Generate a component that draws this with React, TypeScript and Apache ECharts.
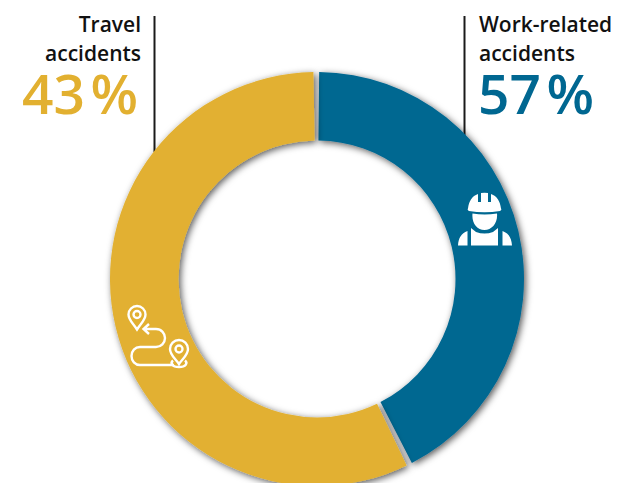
import React, { useEffect, useRef } from "react";
import * as echarts from "echarts";

// Arc sizes as drawn in the picture (the blue arc spans about 155 degrees)
const categories = ["Work-related accidents", "Travel accidents"];
const arcValues = [42.7, 57.3];
const colors = ["#006791", "#e2b030"];
const leftLabel = ["Travel", "accidents"];
const rightLabel = ["Work-related", "accidents"];
const leftPercent = "43\u200A%";
const rightPercent = "57\u200A%";

const workerPath =
  "M468 208.5 C469 201 472 196 478 194 L478 202 L481 202 L481 193 Q484.500 192.300 488 193 L488 202 L491 202 L491 194 C497 196 500 201 501 208.500 Q502 210 500 211 Q484.500 213.500 469 211 Q467 210 468 208.500 Z " +
  "M472.500 213.500 Q484.500 215.500 497 213.500 C498 223 492 230 484.500 230 C477 230 471.500 223 472.500 213.500 Z " +
  "M471 228 L476 232 Q484.500 235 493 232 L498 228 L498 245.500 L471 245.500 Z " +
  "M467.500 231 L467.500 245.500 L458 245.500 C458.500 238 461 233.500 467.500 231 Z " +
  "M502.500 231 C509 233.500 511.500 238 512 245.500 L502.500 245.500 Z";

const routePath =
  "M137 329.500 C133 323 128.500 320 128.500 314.500 A8.500 8.500 0 0 1 145.500 314.500 C145.500 320 141 323 137 329.500 Z " +
  "M140.500 314.500 A3.500 3.500 0 1 1 133.500 314.500 A3.500 3.500 0 1 1 140.500 314.500 Z " +
  "M179 364 C175 358 170 355 170 349 A9 9 0 0 1 188 349 C188 355 183 358 179 364 Z " +
  "M182.500 349 A3.500 3.500 0 1 1 175.500 349 A3.500 3.500 0 1 1 182.500 349 Z " +
  "M173 360.500 C170 363 172 367 179 367 C186 367 188 363 185 360.500 " +
  "M144 329 L156 329 C161.500 329 165 333.500 165 338 C165 343 161 347 156 347 L140 347 C135 347 131.500 351 131.500 356 C131.500 361 135 365 140 365 L174 365 " +
  "M149 324 L143.500 329 L149 334";

echarts.graphic.registerShape("worker", echarts.graphic.extendPath(workerPath, {}) as any);
echarts.graphic.registerShape("route", echarts.graphic.extendPath(routePath, {}) as any);

const FONT = '"Open Sans", sans-serif';

export default function App() {
  const ref = useRef<HTMLDivElement>(null);
  useEffect(() => {
    const chart = echarts.init(ref.current!, undefined, { renderer: "svg" });
    const small = (text: string, x: number, y: number, align: string) => ({
      type: "text",
      x,
      y,
      z: 5,
      style: { text, fill: "#111111", font: `600 21px ${FONT}`, textAlign: align },
    });
    const big = (text: string, x: number, color: string, align: string) => ({
      type: "text",
      x,
      y: 65,
      z: 5,
      style: { text, fill: color, font: `600 55px ${FONT}`, textAlign: align },
    });
    chart.setOption({
      animation: false,
      backgroundColor: "#ffffff",
      series: [
        {
          type: "pie",
          z: 3,
          center: [317, 279],
          radius: [138.5, 207],
          startAngle: 90.2,
          clockwise: true,
          padAngle: 1.6,
          silent: true,
          label: { show: false },
          labelLine: { show: false },
          itemStyle: {
            shadowBlur: 7,
            shadowColor: "rgba(0,0,0,0.65)",
            shadowOffsetX: 2,
            shadowOffsetY: 2,
          },
          data: categories.map((name, i) => ({
            name,
            value: arcValues[i],
            itemStyle: { color: colors[i] },
          })),
        },
      ],
      graphic: [
        { type: "line", z: 0, shape: { x1: 154.5, y1: 16, x2: 154.5, y2: 152 }, style: { stroke: "#1a1a1a", lineWidth: 2 } },
        { type: "line", z: 0, shape: { x1: 464.5, y1: 16, x2: 464.5, y2: 136 }, style: { stroke: "#1a1a1a", lineWidth: 2 } },
        small(leftLabel[0], 141, 13, "right"),
        small(leftLabel[1], 141, 42, "right"),
        big(leftPercent, 138, colors[1], "right"),
        small(rightLabel[0], 479, 13, "left"),
        small(rightLabel[1], 479, 42, "left"),
        big(rightPercent, 478, colors[0], "left"),
        { type: "worker", z: 10, style: { fill: "#ffffff" } },
        { type: "route", z: 10, style: { fill: "none", stroke: "#ffffff", lineWidth: 2.4 } },
      ],
    });
    return () => chart.dispose();
  }, []);
  return <div ref={ref} style={{ position: "fixed", left: 0, top: 0, width: 627, height: 483 }} />;
}
